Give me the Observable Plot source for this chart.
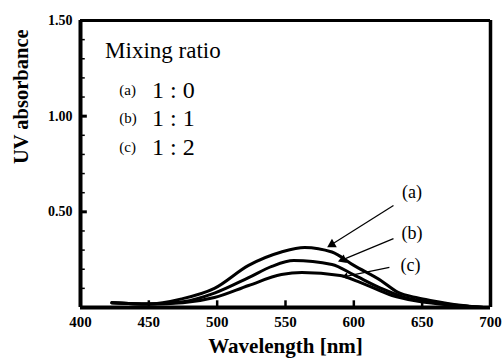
<!DOCTYPE html>
<html><head><meta charset="utf-8">
<script src="https://cdn.jsdelivr.net/npm/d3@7"></script>
<script src="https://cdn.jsdelivr.net/npm/@observablehq/plot@0.6"></script>
<style>body{margin:0;background:#fff} svg text{font-family:'Liberation Serif','Times New Roman',serif !important}</style>
</head><body><div id="chart"></div>
<script>
const wavelengthA = [423, 450, 474, 498, 523, 547, 564, 584, 600, 620, 632, 647, 656, 680, 695];
const absorbA     = [0.025, 0.018, 0.045, 0.10, 0.22, 0.29, 0.314, 0.29, 0.22, 0.14, 0.08, 0.05, 0.037, 0.01, 0.0];
const wavelengthB = [423, 450, 475, 498, 523, 540, 556, 584, 600, 620, 640, 650, 680, 695];
const absorbB     = [0.025, 0.018, 0.03, 0.075, 0.156, 0.215, 0.245, 0.225, 0.17, 0.10, 0.047, 0.035, 0.008, 0.0];
const wavelengthC = [423, 450, 475, 498, 523, 547, 562, 590, 605, 628, 645, 680, 695];
const absorbC     = [0.025, 0.018, 0.025, 0.052, 0.115, 0.172, 0.183, 0.167, 0.13, 0.063, 0.035, 0.008, 0.0];

const xTickLabels = [400, 450, 500, 550, 600, 650, 700];
const xInnerTicks = [450, 500, 550, 600, 650];
const yTickLabels = [0.5, 1.0, 1.5];
const yMinorTicks = [0.1, 0.2, 0.3, 0.4, 0.6, 0.7, 0.8, 0.9, 1.1, 1.2, 1.3, 1.4];

const legendTitle = "Mixing ratio";
const legendKeys = ["(a)", "(b)", "(c)"];
const legendRatios = ["1 : 0", "1 : 1", "1 : 2"];
const legendY = [1.134, 0.988, 0.836];

const arrowLabels = ["(a)", "(b)", "(c)"];
const labelX = [642.5, 642.5, 641.5];
const labelY = [0.60, 0.39, 0.22];
const arrowX1 = [629, 629, 626];
const arrowY1 = [0.533, 0.36, 0.21];
const arrowX2 = [584, 592, 594];
const arrowY2 = [0.33, 0.25, 0.163];
const headRotate = [240, 249, 259];
const headSize = [6, 5.5, 3];

const series = [
  ...wavelengthA.map((w, i) => ({s: "a", w, v: absorbA[i]})),
  ...wavelengthB.map((w, i) => ({s: "b", w, v: absorbB[i]})),
  ...wavelengthC.map((w, i) => ({s: "c", w, v: absorbC[i]}))
];
const legend = legendKeys.map((k, i) => ({k, r: legendRatios[i], y: legendY[i]}));
const arrows = arrowLabels.map((l, i) => ({l, lx: labelX[i], ly: labelY[i], x1: arrowX1[i], y1: arrowY1[i], x2: arrowX2[i], y2: arrowY2[i], rot: headRotate[i], r: headSize[i]}));

const serif = "'Liberation Serif', 'Times New Roman', serif";

const chart = Plot.plot({
  width: 503,
  height: 362,
  marginLeft: 80,
  marginRight: 13,
  marginTop: 20,
  marginBottom: 55,
  style: {fontFamily: serif, background: "#fff", color: "#000"},
  x: {domain: [400, 700]},
  y: {domain: [0, 1.5]},
  marks: [
    Plot.axisX({ticks: xTickLabels, tickSize: 0, tickPadding: 9, fontSize: 15, fontWeight: "bold", fontFamily: serif, label: null}),
    Plot.axisY({ticks: yTickLabels, tickSize: 0, tickPadding: 8, tickFormat: d3.format(".2f"), fontSize: 14, fontWeight: "bold", fontFamily: serif, label: null}),
    Plot.text(["Wavelength [nm]"], {frameAnchor: "bottom", dy: 45, fontSize: 21, fontWeight: "bold", fontFamily: serif, fill: "#000"}),
    Plot.text(["UV absorbance"], {frameAnchor: "left", dx: -59, rotate: -90, fontSize: 20.5, fontWeight: "bold", fontFamily: serif, fill: "#000"}),
    Plot.ruleX(xInnerTicks, {x: d => d, y1: 0, y2: 0.035, strokeWidth: 2.5}),
    Plot.ruleY(yMinorTicks, {y: d => d, x1: 400, x2: 403.5, strokeWidth: 1.5}),
    Plot.ruleY(yTickLabels, {y: d => d, x1: 400, x2: 405, strokeWidth: 3}),
    Plot.line(series, {x: "w", y: "v", z: "s", stroke: "#000", strokeWidth: 3, curve: "monotone-x"}),
    Plot.link(arrows, {x1: "x1", y1: "y1", x2: "x2", y2: "y2", stroke: "#000", strokeWidth: 1.2}),
    Plot.dot(arrows, {x: "x2", y: "y2", symbol: "triangle", r: "r", rotate: "rot", fill: "#000", stroke: null}),
    Plot.text(arrows, {x: "lx", y: "ly", text: "l", fontSize: 18, fontFamily: serif, fill: "#000"}),
    Plot.text([legendTitle], {x: 418, y: 1.343, textAnchor: "start", fontSize: 23, fontFamily: serif, fill: "#000"}),
    Plot.text(legend, {x: 428.4, y: "y", text: "k", textAnchor: "start", fontSize: 15, fontFamily: serif, fill: "#000"}),
    Plot.text(legend, {x: 452.4, y: "y", text: "r", textAnchor: "start", fontSize: 24, fontFamily: serif, fill: "#000"}),
    Plot.ruleX([400], {strokeWidth: 4}),
    Plot.ruleX([700], {strokeWidth: 3.5}),
    Plot.ruleY([0], {strokeWidth: 4}),
    Plot.ruleY([1.5], {strokeWidth: 3})
  ]
});
document.getElementById("chart").append(chart);
</script>
</body></html>
